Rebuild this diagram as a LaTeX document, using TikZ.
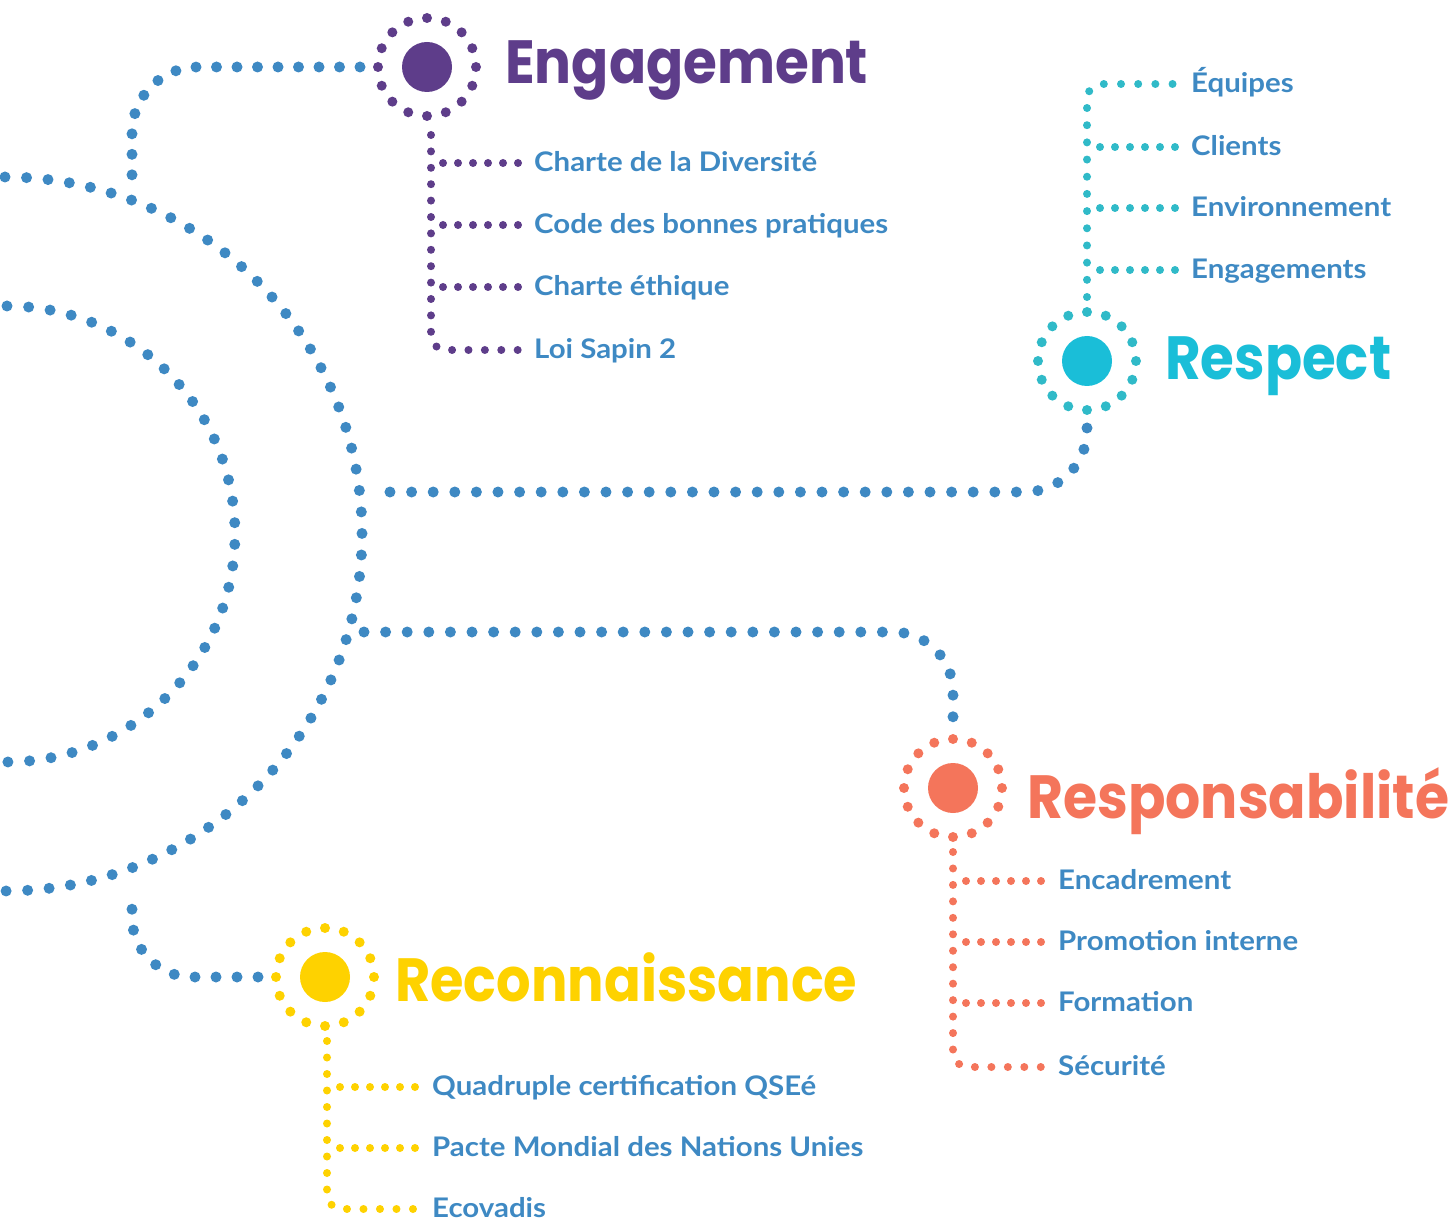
\documentclass[tikz,border=0pt]{standalone}
\usepackage{fontspec}
\newfontfamily\headfont{Poppins}
\newfontfamily\labfont{Lato}
\definecolor{cblue}{HTML}{3E89C3}
\definecolor{cpurple}{HTML}{5E3D8A}
\definecolor{ccyan}{HTML}{1ABED8}
\definecolor{cteal}{HTML}{30BAC8}
\definecolor{ccoral}{HTML}{F4755B}
\definecolor{cyellow}{HTML}{FED200}
\newcommand\hd[2]{\resizebox{#1pt}{\height}{#2}}
\newcommand\lb[1]{\scalebox{1.09}[1]{#1}}
\begin{document}
\begin{tikzpicture}[x=1pt,y=-1pt,
  bluedots/.style={draw=cblue, line width=11pt, line cap=round, dash pattern=on 0pt off #1},
  bluedots/.default=21.6pt,
  subdots/.style={line width=8pt, line cap=round, dash pattern=on 0pt off 15pt},
  vdots/.style={line width=8pt, line cap=round, rounded corners=15pt, dash pattern=on 0pt off #1},
  hub/.style={circle, inner sep=0pt, minimum size=50pt},
  head/.style={anchor=base west, inner sep=0pt, font=\headfont\bfseries\fontsize{61}{61}\selectfont},
  lab/.style={anchor=base west, inner sep=0pt, text=cblue, font=\labfont\bfseries\fontsize{27}{27}\selectfont},
]
\useasboundingbox (0,0) rectangle (1454,1222);
\newcommand\ringof[2]{\foreach \a in {0,22.5,...,337.5} \fill[#2] (#1) ++(\a:49) circle[radius=5];}

% hubs
\node[hub, fill=cpurple] (eng) at (427,67) {};
\node[hub, fill=ccyan] (res) at (1087,361) {};
\node[hub, fill=ccoral] (rsp) at (953,788) {};
\node[hub, fill=cyellow] (rec) at (325,977) {};
\ringof{eng}{cpurple}
\ringof{res}{cteal}
\ringof{rsp}{ccoral}
\ringof{rec}{cyellow}

% headings
\node[head, text=cpurple] (engT) at (505,84) {\hd{363}{Engagement}};
\node[head, text=ccyan] (resT) at (1165,380) {\hd{226}{Respect}};
\node[head, text=ccoral] (rspT) at (1027,818) {\hd{422}{Responsabilité}};
\node[head, text=cyellow] (recT) at (395,1001) {\hd{462}{Reconnaissance}};

% main arcs
\coordinate (oTop) at (5,177);
\coordinate (iTop) at (7,306);
\draw[bluedots=21.55pt] (oTop) arc[start angle=-90, end angle=90, radius=357];
\draw[bluedots=21.68pt] (iTop) arc[start angle=-90, end angle=90, radius=228];

% blue branches
\coordinate (jE) at (132,186);
\coordinate (eW) at (360,67);
\draw[bluedots=20.5pt, rounded corners=66pt] (eW) -- (jE |- eW) -- (jE);
\coordinate (jR) at (132,890);
\coordinate (rW) at (258,977);
\draw[bluedots=21pt, rounded corners=60pt] (rW) -- (jR |- rW) -- (jR);
\coordinate (jS) at (374,492);
\coordinate (sS) at (1087,428);
\draw[bluedots, rounded corners=62pt] (sS) -- (sS |- jS) -- (jS);
\coordinate (jP) at (364,632);
\coordinate (pN) at (953,726);
\draw[bluedots, rounded corners=60pt] (jP) -- (pN |- jP) -- (pN);

% Engagement sub-branches
\coordinate (e0) at (431,135);
\coordinate (e4) at (518,350);
\draw[cpurple, vdots=16.4pt] (e0) -- (e0 |- e4) -- (e4);
\foreach \y/\t [count=\i] in {163/Charte de la Diversité,225/Code des bonnes pratiques,287/Charte éthique,350/Loi Sapin 2}{
  \node[lab] (el\i) at (534,\y+8.5) {\lb{\t}};
}
\foreach \y in {163,225,287} \draw[cpurple, subdots] (443,\y) -- (518,\y);

% Respect sub-branches
\coordinate (r0) at (1087,297);
\coordinate (r1) at (1173,84);
\draw[cteal, vdots=17.18pt] (r0) -- (r0 |- r1) -- (r1);
\foreach \y/\t [count=\i] in {84/Équipes,147/Clients,208/Environnement,270/Engagements}{
  \node[lab] (rl\i) at (1191,\y+8.5) {\lb{\t}};
}
\foreach \y in {147,208,270} \draw[cteal, subdots] (1100,\y) -- (1175,\y);

% Responsabilite sub-branches
\coordinate (p0) at (953,852);
\coordinate (p4) at (1041,1067);
\draw[ccoral, vdots=16.46pt] (p0) -- (p0 |- p4) -- (p4);
\foreach \y/\t [count=\i] in {881/Encadrement,942/Promotion interne,1003/Formation,1067/Sécurité}{
  \node[lab] (pl\i) at (1058,\y+8.5) {\lb{\t}};
}
\foreach \y in {881,942,1003} \draw[ccoral, subdots] (966,\y) -- (1041,\y);

% Reconnaissance sub-branches
\coordinate (c0) at (327,1041);
\coordinate (c3) at (414,1209);
\draw[cyellow, vdots=16.5pt] (c0) -- (c0 |- c3) -- (c3);
\foreach \y/\t [count=\i] in {1087/Quadruple certification QSEé,1148/Pacte Mondial des Nations Unies,1209/Ecovadis}{
  \node[lab] (cl\i) at (432,\y+8) {\lb{\t}};
}
\foreach \y in {1087,1148} \draw[cyellow, subdots] (340,\y) -- (415,\y);
\end{tikzpicture}
\end{document}
